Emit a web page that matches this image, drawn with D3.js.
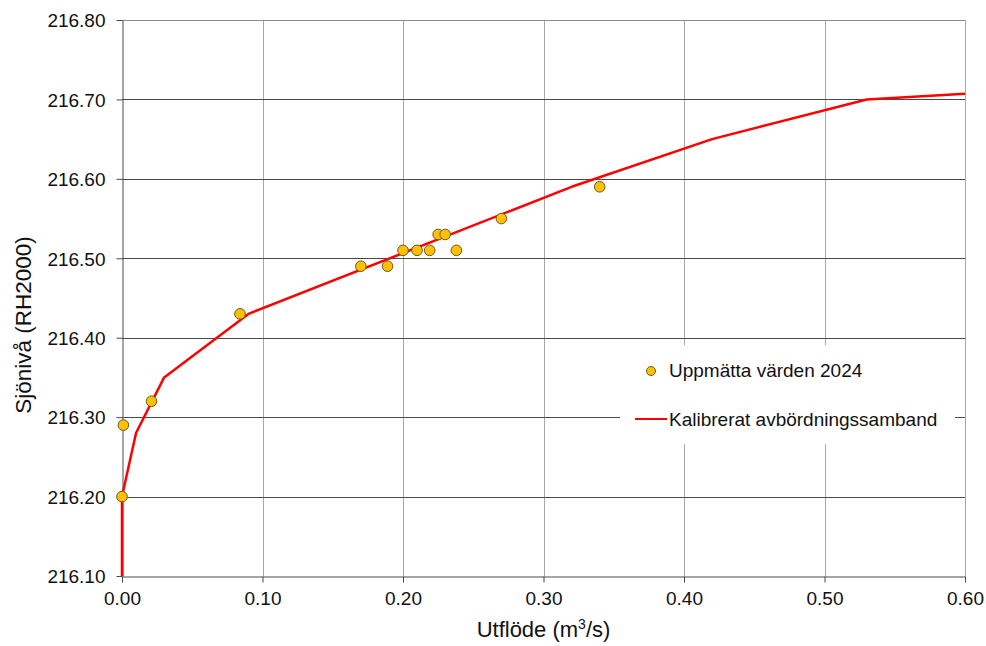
<!DOCTYPE html>
<html>
<head>
<meta charset="utf-8">
<script src="https://cdn.jsdelivr.net/npm/d3@7"></script>
<style>
  body { margin: 0; background: #fff; }
  svg { display: block; font-family: "Liberation Sans", Arial, sans-serif; }
</style>
</head>
<body>
<svg id="chart" width="986" height="646"></svg>
<script>
// Measured water levels 2024: discharge (m³/s) and level (RH2000)
const measuredFlow  = [0.000, 0.001, 0.021, 0.084, 0.170, 0.189, 0.200, 0.210, 0.219, 0.225, 0.230, 0.238, 0.270, 0.340];
const measuredLevel = [216.20, 216.29, 216.32, 216.43, 216.49, 216.49, 216.51, 216.51, 216.51, 216.53, 216.53, 216.51, 216.55, 216.59];

// Calibrated rating curve
const curveFlow  = [0.000, 0.000, 0.010, 0.030, 0.090, 0.320, 0.420, 0.530, 0.600];
const curveLevel = [216.10, 216.20, 216.28, 216.35, 216.43, 216.59, 216.65, 216.70, 216.707];

const xTicks = [0, 0.1, 0.2, 0.3, 0.4, 0.5, 0.6];
const yTicks = [216.1, 216.2, 216.3, 216.4, 216.5, 216.6, 216.7, 216.8];

const legendLabels = ["Uppmätta värden 2024", "Kalibrerat avbördningssamband"];

const svg = d3.select("#chart");
const plot = { left: 122, right: 965, top: 20, bottom: 576 };

const x = d3.scaleLinear().domain([0, 0.6]).range([plot.left, plot.right]);
const y = d3.scaleLinear().domain([216.1, 216.8]).range([plot.bottom, plot.top]);

// Vertical gridlines (light)
svg.append("g").selectAll("line").data(xTicks.slice(1)).join("line")
  .attr("x1", d => Math.round(x(d)) + 0.5).attr("x2", d => Math.round(x(d)) + 0.5)
  .attr("y1", plot.top).attr("y2", plot.bottom)
  .attr("stroke", "#a8a8a8").attr("stroke-width", 1);

// Horizontal gridlines (dark)
svg.append("g").selectAll("line").data(yTicks.slice(1)).join("line")
  .attr("x1", plot.left).attr("x2", plot.right)
  .attr("y1", d => Math.round(y(d)) + 0.5).attr("y2", d => Math.round(y(d)) + 0.5)
  .attr("stroke", d => d === 216.8 ? "#8a8a8a" : "#4a4a4a").attr("stroke-width", 1);

// Axes
const xAxis = d3.axisBottom(x).tickValues(xTicks).tickFormat(d3.format(".2f")).tickSizeInner(6).tickSizeOuter(0).tickPadding(6);
const yAxis = d3.axisLeft(y).tickValues(yTicks).tickFormat(d3.format(".2f")).tickSizeInner(6).tickSizeOuter(0).tickPadding(11);

const gx = svg.append("g").attr("transform", `translate(0,${plot.bottom + 0.5})`).call(xAxis);
const gy = svg.append("g").attr("transform", `translate(${plot.left + 0.5},0)`).call(yAxis);
[gx, gy].forEach(g => {
  g.select(".domain").attr("stroke", "#4a4a4a");
  g.selectAll(".tick line").attr("stroke", "#4a4a4a");
  g.selectAll(".tick text").attr("fill", "#111").style("font-size", "19px")
    .style("font-family", "'Liberation Sans', Arial, sans-serif");
});
gx.selectAll(".tick text").attr("dy", "0.85em");
gy.selectAll(".tick text").attr("dy", "0.36em");

// Legend box (covers gridlines)
const lg = svg.append("g");
lg.append("rect").attr("x", 620).attr("y", 345).attr("width", 335).attr("height", 99).attr("fill", "#fff");
lg.append("circle").attr("cx", 651).attr("cy", 371).attr("r", 4.5)
  .attr("fill", "#FFC000").attr("stroke", "#6b5a1e").attr("stroke-width", 1);
lg.append("text").attr("x", 669).attr("y", 377).text(legendLabels[0])
  .style("font-size", "19px").attr("fill", "#111");
lg.append("line").attr("x1", 635).attr("x2", 667).attr("y1", 419).attr("y2", 419)
  .attr("stroke", "#FF0000").attr("stroke-width", 2);
lg.append("text").attr("x", 669).attr("y", 426).text(legendLabels[1])
  .style("font-size", "19px").attr("fill", "#111");

// Rating curve
const curve = curveFlow.map((f, i) => [f, curveLevel[i]]);
svg.append("path").datum(curve)
  .attr("d", d3.line().x(d => x(d[0])).y(d => y(d[1])))
  .attr("fill", "none").attr("stroke", "#FF0000").attr("stroke-width", 2.5)
  .attr("stroke-linejoin", "round");

// Measured points
const pts = measuredFlow.map((f, i) => [f, measuredLevel[i]]);
svg.append("g").selectAll("circle").data(pts).join("circle")
  .attr("cx", d => x(d[0])).attr("cy", d => y(d[1])).attr("r", 5.3)
  .attr("fill", "#FFC000").attr("stroke", "#6b5a1e").attr("stroke-width", 1);

// Axis titles
svg.append("text").attr("x", (plot.left + plot.right) / 2).attr("y", 637).attr("text-anchor", "middle")
  .style("font-size", "22px").attr("fill", "#111")
  .html("Utflöde (m<tspan baseline-shift='super' font-size='14px'>3</tspan>/s)");

svg.append("text").attr("transform", `translate(31,${(plot.top + plot.bottom) / 2 + 27}) rotate(-90)`)
  .attr("text-anchor", "middle")
  .style("font-size", "22.5px").attr("fill", "#111")
  .text("Sjönivå (RH2000)");
</script>
</body>
</html>
